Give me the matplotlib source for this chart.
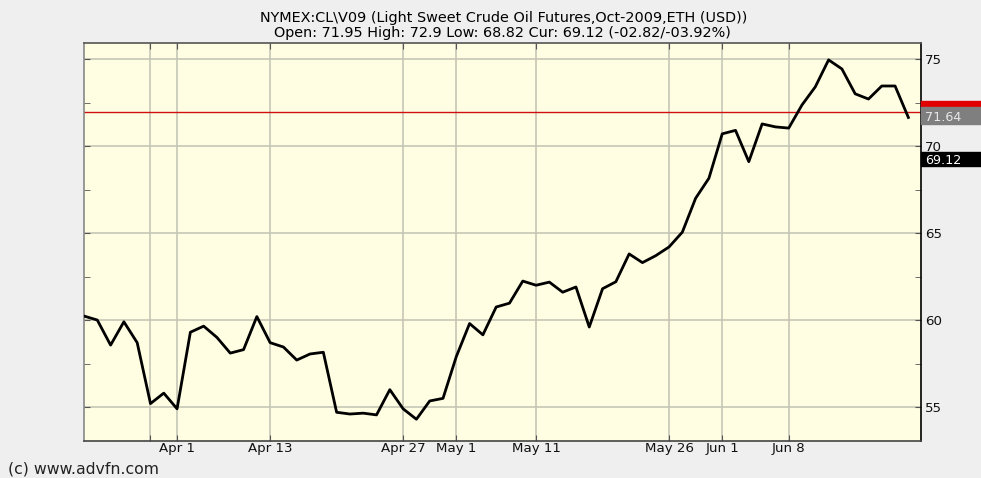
import matplotlib
matplotlib.use("Agg")
import matplotlib.pyplot as plt
import numpy as np
import pandas as pd
from matplotlib.patches import Rectangle

# Trading days Mar 23 - Jun 19, 2009 (weekends, Good Friday Apr 10, Memorial Day May 25 excluded)
dates = [d for d in pd.bdate_range("2009-03-23", "2009-06-19")
         if d not in (pd.Timestamp("2009-04-10"), pd.Timestamp("2009-05-25"))]

prices = [60.23, 60.0, 58.56, 59.9, 58.7, 55.2, 55.8, 54.9, 59.3, 59.65,
          59.0, 58.1, 58.3, 60.2, 58.7, 58.45, 57.7, 58.05, 58.15, 54.7,
          54.6, 54.65, 54.55, 56.0, 54.9, 54.3, 55.35, 55.5, 57.9, 59.8,
          59.15, 60.75, 60.97, 62.24, 62.0, 62.18, 61.6, 61.9, 59.6, 61.8,
          62.2, 63.8, 63.3, 63.7, 64.2, 65.05, 67.0, 68.15, 70.7, 70.9,
          69.1, 71.27, 71.1, 71.03, 72.36, 73.4, 74.95, 74.43, 73.0, 72.7,
          73.45, 73.45, 71.64]

grid_dates = ["2009-03-30", "2009-04-01", "2009-04-13", "2009-04-27", "2009-05-01",
              "2009-05-11", "2009-05-26", "2009-06-01", "2009-06-08"]
grid_labels = ["", "Apr 1", "Apr 13", "Apr 27", "May 1", "May 11", "May 26", "Jun 1", "Jun 8"]
y_ticks = [55, 60, 65, 70, 75]
y_minor = [57.5, 62.5, 67.5, 72.5]

open_price = 71.95
last_price = 71.64
cur_price = 69.12

title1 = "NYMEX:CL\\V09 (Light Sweet Crude Oil Futures,Oct-2009,ETH (USD))"
title2 = "Open: 71.95 High: 72.9 Low: 68.82 Cur: 69.12 (-02.82/-03.92%)"

FONT = "DejaVu Sans"
FS = 9.6

idx = {d: i for i, d in enumerate(dates)}
x = np.arange(len(prices))
gx = [idx[pd.Timestamp(d)] for d in grid_dates]

W, H = 981, 478
fig = plt.figure(figsize=(W / 100, H / 100), dpi=100, facecolor="#efefef")
L, R, T, B = 84, 921, 43, 441
ax = fig.add_axes([L / W, 1 - B / H, (R - L) / W, (B - T) / H])
ax.set_facecolor("#fffee2")

ax.set_xlim(0, 62.95)
ax.set_ylim(53.05, 75.92)

for g in gx:
    ax.axvline(g, color="#c6c6b6", lw=1.2, zorder=1)
for yv in y_ticks:
    ax.axhline(yv, color="#c6c6b6", lw=1.2, zorder=1)

ax.axhline(open_price, color="#d01010", lw=1.0, zorder=2)
ax.plot(x, prices, color="black", lw=2.0, zorder=3, solid_joinstyle="round")

ax.set_xticks(gx)
ax.set_xticklabels(grid_labels)
ax.set_yticks(y_ticks)
ax.set_yticks(y_minor, minor=True)
ax.yaxis.tick_right()
ax.tick_params(axis="y", which="both", direction="in", length=4, color="#555555",
               labelsize=FS, pad=3, left=True, right=True)
ax.tick_params(axis="x", direction="in", length=4, color="#555555", labelsize=FS, pad=4,
               top=True)
for lab in ax.get_yticklabels() + ax.get_xticklabels():
    lab.set_fontfamily(FONT)
    lab.set_color("#111111")
    lab.set_verticalalignment("center_baseline")

ax.spines["left"].set_color("#888888")
ax.spines["top"].set_color("#555555")
ax.spines["bottom"].set_color("#444444")
ax.spines["right"].set_color("#000000")
for s in ax.spines.values():
    s.set_linewidth(1.2)

def yfig(v):
    return ax.transData.transform((0, v))[1] / H

fig.canvas.draw()
bw = (W - R) / W
px = 1 / H
fig.patches.append(Rectangle((R / W, yfig(last_price) + 11 * px), bw, 5 * px,
                             transform=fig.transFigure, color="#e00000", zorder=5))
fig.patches.append(Rectangle((R / W, yfig(last_price) - 6.5 * px), bw, 17 * px,
                             transform=fig.transFigure, color="#7f7f7f", zorder=5))
fig.text((R + 4) / W, yfig(last_price) + 1.5 * px, f"{last_price:.2f}", color="#e8e8e8",
         fontsize=9.2, va="center_baseline", ha="left", family=FONT, zorder=6)
fig.patches.append(Rectangle((R / W, yfig(cur_price) - 5 * px), bw, 14 * px,
                             transform=fig.transFigure, color="#000000", zorder=5))
fig.text((R + 4) / W, yfig(cur_price) + 2 * px, f"{cur_price:.2f}", color="white",
         fontsize=9.2, va="center_baseline", ha="left", family=FONT, zorder=6)

fig.text(504 / W, 1 - 18 / H, title1, ha="center", va="center", fontsize=10.4,
         family=FONT)
fig.text(502 / W, 1 - 33 / H, title2, ha="center", va="center", fontsize=10.4,
         family=FONT)
fig.text(8 / W, 1 - 469 / H, "(c) www.advfn.com", ha="left", va="center", fontsize=11.3,
         family=FONT, color="#222222")

fig.savefig("out.png", dpi=100, facecolor=fig.get_facecolor())
